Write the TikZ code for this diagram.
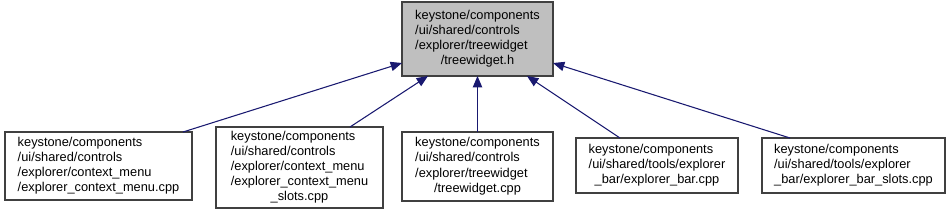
\documentclass[tikz,border=0pt]{standalone}
\usepackage{fontspec}
\setmainfont{Liberation Sans}
\usetikzlibrary{arrows.meta}
\definecolor{edgecol}{HTML}{191970}
\definecolor{topfill}{HTML}{BFBFBF}
\tikzset{
  box/.style={draw=black!75, line width=0.9pt, fill=white, inner sep=0pt, anchor=center,
    font=\fontsize{9.6}{11}\selectfont},
  topbox/.style={box, fill=topfill},
  dep/.style={draw=edgecol, line width=0.8pt, -{Triangle[length=8.5pt,width=7pt]}, shorten >=0pt}
}
\newcommand{\mylines}[1]{\renewcommand{\arraystretch}{1.03}\begin{tabular}{@{}l@{}}#1\end{tabular}}
\newcommand{\cln}[1]{\multicolumn{1}{@{}c@{}}{#1}}
\begin{document}
\begin{tikzpicture}[x=0.75pt,y=-0.75pt]
\useasboundingbox (0,0) rectangle (950,215);
\node[topbox, minimum width=151*0.75pt, minimum height=74*0.75pt] (top) at (477.5,39)
  {\mylines{keystone/components\\/ui/shared/controls\\/explorer/treewidget\\\cln{/treewidget.h}}};
\node[box, minimum width=187*0.75pt, minimum height=68*0.75pt] (n1) at (98.5,166)
  {\mylines{keystone/components\\/ui/shared/controls\\/explorer/context\_menu\\/explorer\_context\_menu.cpp}};
\node[box, minimum width=167*0.75pt, minimum height=81*0.75pt] (n2) at (299.5,167.5)
  {\mylines{keystone/components\\/ui/shared/controls\\/explorer/context\_menu\\/explorer\_context\_menu\\\cln{\_slots.cpp}}};
\node[box, minimum width=151*0.75pt, minimum height=69*0.75pt] (n3) at (477.5,166.5)
  {\mylines{keystone/components\\/ui/shared/controls\\/explorer/treewidget\\\cln{/treewidget.cpp}}};
\node[box, minimum width=162*0.75pt, minimum height=55*0.75pt] (n4) at (657,165.5)
  {\mylines{keystone/components\\/ui/shared/tools/explorer\\\cln{\_bar/explorer\_bar.cpp}}};
\node[box, minimum width=183*0.75pt, minimum height=55*0.75pt] (n5) at (853.5,165.5)
  {\mylines{keystone/components\\/ui/shared/tools/explorer\\\_bar/explorer\_bar\_slots.cpp}};
\coordinate (t1) at (402,63);
\coordinate (t2) at (428,76);
\coordinate (t3) at (477.5,76);
\coordinate (t4) at (527,76);
\coordinate (t5) at (553,63);
\coordinate (s1) at (183,132);
\coordinate (s2) at (350,127);
\coordinate (s3) at (477.5,132);
\coordinate (s4) at (620,138);
\coordinate (s5) at (790,138);
\draw[dep] (s1) -- (t1);
\draw[dep] (s2) -- (t2);
\draw[dep] (s3) -- (t3);
\draw[dep] (s4) -- (t4);
\draw[dep] (s5) -- (t5);
\end{tikzpicture}
\end{document}
